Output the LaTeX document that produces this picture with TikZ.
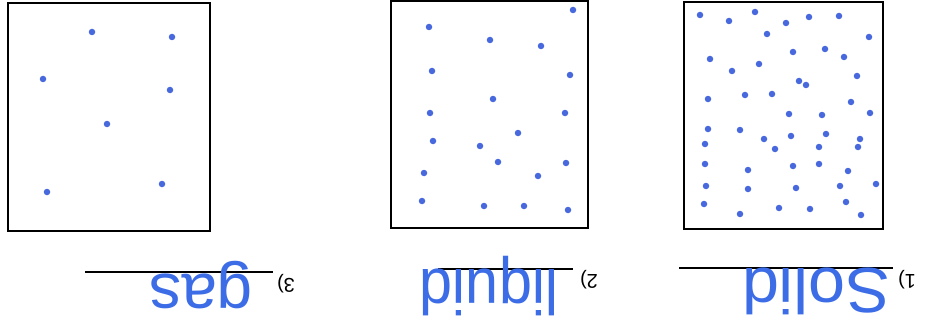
\documentclass[tikz,border=0pt]{standalone}
\usepackage{fontspec}
\setmainfont{Liberation Sans}
\definecolor{ink}{RGB}{72,105,222}
\definecolor{pen}{RGB}{60,108,230}
\tikzset{
  panel/.style={draw=black, line width=2.8pt},
  dot/.style={circle, fill=ink, inner sep=0pt, minimum size=6.5pt},
  word/.style={text=pen, inner sep=0pt, anchor=base, rotate=180},
  num/.style={text=black, inner sep=0pt, rotate=180, font=\fontsize{20}{20}\selectfont},
  blank/.style={draw=black, line width=1.6pt}
}
\begin{document}
\begin{tikzpicture}[x=1pt,y=-1pt]
\useasboundingbox (0,0) rectangle (932,329);
\fill[white] (0,0) rectangle (932,329);
% boxes
\draw[panel] (8,3) rectangle (210,231);
\draw[panel] (391,1) rectangle (588,228);
\draw[panel] (684,2) rectangle (883,229);
% gas dots
\foreach \p [count=\i] in {(92,32),(172,37),(43,79),(170,90),(107,124),(47,192),(162,184)}
  \node[dot] (g\i) at \p {};
% liquid dots
\foreach \p [count=\i] in {(573,10),(429,27),(490,40),(541,46),(432,71),(570,75),(493,99),(430,113),(565,113),(518,133),(433,141),(480,146),(498,162),(566,163),(424,173),(538,176),(422,201),(484,206),(524,206),(568,210)}
  \node[dot] (l\i) at \p {};
% solid dots
\foreach \p [count=\i] in {(700,15),(729,21),(755,12),(786,23),(809,17),(839,16),(767,34),(869,37),(710,59),(793,52),(825,49),(844,57),(732,71),(759,64),(857,76),(799,81),(806,85),(708,99),(745,95),(772,94),(851,102),(789,114),(822,115),(870,113),(708,129),(740,130),(764,139),(791,136),(826,134),(860,139),(705,144),(775,149),(819,147),(858,147),(705,164),(748,170),(793,166),(819,164),(848,171),(706,186),(748,189),(796,188),(840,186),(876,184),(704,204),(779,208),(810,209),(846,202),(740,214),(861,215)}
  \node[dot] (s\i) at \p {};
% answer lines
\coordinate (ga) at (85,272); \coordinate (gb) at (273,272);
\coordinate (la) at (438,269); \coordinate (lb) at (573,269);
\coordinate (sa) at (679,268); \coordinate (sb) at (893,268);
\draw[blank] (ga) -- (gb);
\draw[blank] (la) -- (lb);
\draw[blank] (sa) -- (sb);
% numbers
\node[num] (n3) at (286,284) {3)};
\node[num] (n2) at (589,280) {2)};
\node[num] (n1) at (907,280) {1)};
% words
\node[word, font=\fontsize{64}{64}\selectfont] (wg) at (201,274) {gas};
\node[word, font=\fontsize{64}{64}\selectfont, xscale=0.93] (wl) at (489,269) {liquid};
\node[word, font=\fontsize{64}{64}\selectfont, xscale=1.04] (ws) at (816,268) {Solid};
\end{tikzpicture}
\end{document}
